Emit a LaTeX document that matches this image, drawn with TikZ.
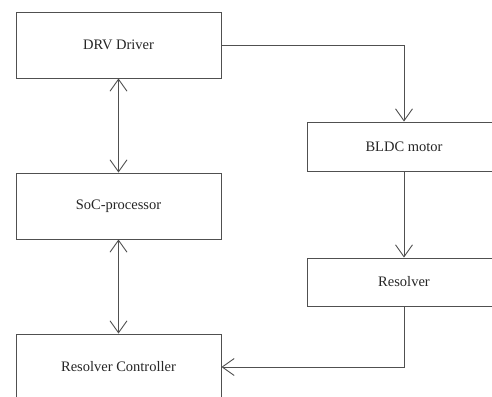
\documentclass[tikz,border=0pt]{standalone}
\usepackage{fontspec}
\setmainfont{Liberation Serif}
\usetikzlibrary{arrows.meta}
\begin{document}
\begin{tikzpicture}[x=1pt,y=-1pt,
  blockbox/.style={draw=linegray, line width=0.9pt, fill=white, inner sep=0pt,
    font=\fontsize{14.5}{16}\selectfont, text=black!85},
  wire/.style={draw=linegray, line width=0.9pt},
  barb/.tip={Straight Barb[length=12pt, width=17pt, line width=0.9pt]}
]
\definecolor{linegray}{HTML}{505050}
\useasboundingbox (0,0) rectangle (492,396);
\clip (0,0) rectangle (492,396);

% left column
\node[blockbox, minimum width=205pt, minimum height=66pt] (drv)  at (118.5,45)  {DRV Driver};
\node[blockbox, minimum width=205pt, minimum height=66pt] (soc)  at (118.5,206) {SoC-processor};
\node[blockbox, minimum width=205pt, minimum height=66pt] (ctrl) at (118.5,367) {Resolver Controller};

% right column
\node[blockbox, minimum width=194pt, minimum height=49pt] (bldc) at (404,146.5) {BLDC motor};
\node[blockbox, minimum width=194pt, minimum height=48pt] (res)  at (404,282)   {Resolver};

% connectors
\draw[wire, -barb] (drv.east) -| (bldc.north);
\draw[wire, barb-barb] (drv.south) -- (soc.north);
\draw[wire, barb-barb] (soc.south) -- (ctrl.north);
\draw[wire, -barb] (bldc.south) -- (res.north);
\draw[wire, -barb] (res.south) |- (ctrl.east);
\end{tikzpicture}
\end{document}
